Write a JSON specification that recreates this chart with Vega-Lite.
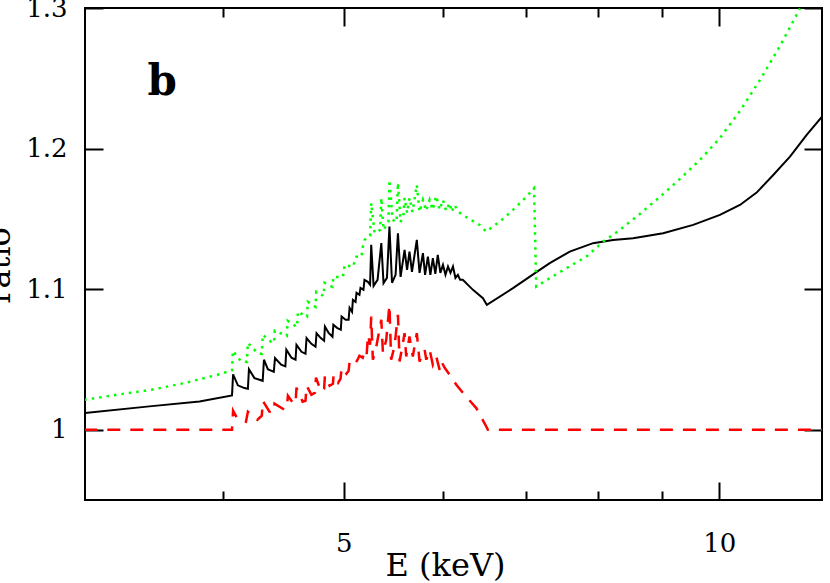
{
  "$schema": "https://vega.github.io/schema/vega-lite/v6.json",
  "width": 737,
  "height": 492,
  "autosize": "none",
  "padding": {"left": 85, "top": 8, "right": 8, "bottom": 83},
  "background": "white",
  "config": {
    "view": {"stroke": "black", "strokeWidth": 2},
    "font": "DejaVu Serif",
    "axis": {
      "domain": false,
      "grid": false,
      "labelFont": "DejaVu Serif",
      "labelFontSize": 26,
      "labelColor": "black",
      "labelOverlap": false,
      "labelFlush": false,
      "titleFont": "DejaVu Serif",
      "titleFontSize": 32,
      "titleFontWeight": "normal",
      "titleColor": "black",
      "tickColor": "black",
      "tickWidth": 2
    }
  },
  "datasets": {
    "black": [
      {"E":3.096,"ratio":1.0119},{"E":3.491,"ratio":1.0166},{"E":3.830,"ratio":1.0201},{"E":4.067,"ratio":1.0244},{"E":4.075,"ratio":1.0394},{"E":4.111,"ratio":1.0316},{"E":4.161,"ratio":1.0296},{"E":4.188,"ratio":1.0291},{"E":4.196,"ratio":1.0430},{"E":4.239,"ratio":1.0367},{"E":4.304,"ratio":1.0348},{"E":4.314,"ratio":1.0498},{"E":4.345,"ratio":1.0431},{"E":4.393,"ratio":1.0412},{"E":4.403,"ratio":1.0510},{"E":4.453,"ratio":1.0462},{"E":4.488,"ratio":1.0451},{"E":4.496,"ratio":1.0569},{"E":4.539,"ratio":1.0512},{"E":4.573,"ratio":1.0498},{"E":4.581,"ratio":1.0604},{"E":4.624,"ratio":1.0554},{"E":4.658,"ratio":1.0540},{"E":4.667,"ratio":1.0652},{"E":4.709,"ratio":1.0611},{"E":4.745,"ratio":1.0590},{"E":4.754,"ratio":1.0687},{"E":4.789,"ratio":1.0654},{"E":4.821,"ratio":1.0633},{"E":4.828,"ratio":1.0734},{"E":4.861,"ratio":1.0689},{"E":4.896,"ratio":1.0661},{"E":4.904,"ratio":1.0746},{"E":4.937,"ratio":1.0725},{"E":4.972,"ratio":1.0711},{"E":4.979,"ratio":1.0805},{"E":5.016,"ratio":1.0782},{"E":5.044,"ratio":1.0782},{"E":5.053,"ratio":1.0867},{"E":5.076,"ratio":1.0839},{"E":5.084,"ratio":1.0924},{"E":5.109,"ratio":1.0910},{"E":5.118,"ratio":1.0974},{"E":5.146,"ratio":1.0960},{"E":5.156,"ratio":1.1009},{"E":5.184,"ratio":1.0995},{"E":5.194,"ratio":1.1066},{"E":5.226,"ratio":1.1052},{"E":5.248,"ratio":1.1031},{"E":5.259,"ratio":1.1315},{"E":5.282,"ratio":1.1023},{"E":5.321,"ratio":1.1066},{"E":5.358,"ratio":1.1327},{"E":5.380,"ratio":1.1043},{"E":5.414,"ratio":1.1080},{"E":5.439,"ratio":1.1445},{"E":5.465,"ratio":1.1045},{"E":5.501,"ratio":1.1102},{"E":5.525,"ratio":1.1398},{"E":5.552,"ratio":1.1087},{"E":5.593,"ratio":1.1279},{"E":5.619,"ratio":1.1137},{"E":5.644,"ratio":1.1267},{"E":5.670,"ratio":1.1123},{"E":5.721,"ratio":1.1350},{"E":5.750,"ratio":1.1116},{"E":5.786,"ratio":1.1256},{"E":5.809,"ratio":1.1102},{"E":5.839,"ratio":1.1232},{"E":5.866,"ratio":1.1102},{"E":5.893,"ratio":1.1220},{"E":5.920,"ratio":1.1109},{"E":5.947,"ratio":1.1244},{"E":5.975,"ratio":1.1116},{"E":6.004,"ratio":1.1173},{"E":6.032,"ratio":1.1102},{"E":6.060,"ratio":1.1161},{"E":6.088,"ratio":1.1116},{"E":6.116,"ratio":1.1161},{"E":6.144,"ratio":1.1080},{"E":6.172,"ratio":1.1102},{"E":6.197,"ratio":1.1066},{"E":6.228,"ratio":1.1066},{"E":6.346,"ratio":1.0995},{"E":6.464,"ratio":1.0936},{"E":6.511,"ratio":1.0888},{"E":6.833,"ratio":1.1007},{"E":7.135,"ratio":1.1121},{"E":7.313,"ratio":1.1185},{"E":7.588,"ratio":1.1267},{"E":7.922,"ratio":1.1327},{"E":8.220,"ratio":1.1350},{"E":8.530,"ratio":1.1362},{"E":9.016,"ratio":1.1398},{"E":9.531,"ratio":1.1457},{"E":10.013,"ratio":1.1528},{"E":10.390,"ratio":1.1599},{"E":10.715,"ratio":1.1687},{"E":11.049,"ratio":1.1812},{"E":11.396,"ratio":1.1942},{"E":11.753,"ratio":1.2097},{"E":12.09,"ratio":1.2227}
    ],
    "green": [
      {"E":3.096,"ratio":1.0213},{"E":3.291,"ratio":1.0249},{"E":3.504,"ratio":1.0284},{"E":3.725,"ratio":1.0332},{"E":3.959,"ratio":1.0391},{"E":4.067,"ratio":1.0423},{"E":4.073,"ratio":1.0561},{"E":4.136,"ratio":1.0485},{"E":4.181,"ratio":1.0483},{"E":4.187,"ratio":1.0618},{"E":4.264,"ratio":1.0545},{"E":4.297,"ratio":1.0540},{"E":4.304,"ratio":1.0675},{"E":4.372,"ratio":1.0625},{"E":4.395,"ratio":1.0618},{"E":4.401,"ratio":1.0704},{"E":4.480,"ratio":1.0675},{"E":4.500,"ratio":1.0668},{"E":4.507,"ratio":1.0775},{"E":4.579,"ratio":1.0734},{"E":4.586,"ratio":1.0732},{"E":4.593,"ratio":1.0841},{"E":4.664,"ratio":1.0805},{"E":4.671,"ratio":1.0803},{"E":4.678,"ratio":1.0910},{"E":4.745,"ratio":1.0874},{"E":4.751,"ratio":1.0981},{"E":4.816,"ratio":1.0952},{"E":4.825,"ratio":1.1045},{"E":4.896,"ratio":1.1016},{"E":4.904,"ratio":1.1087},{"E":4.991,"ratio":1.1087},{"E":5.007,"ratio":1.1173},{"E":5.084,"ratio":1.1158},{"E":5.116,"ratio":1.1230},{"E":5.165,"ratio":1.1230},{"E":5.178,"ratio":1.1301},{"E":5.194,"ratio":1.1350},{"E":5.248,"ratio":1.1379},{"E":5.259,"ratio":1.1613},{"E":5.292,"ratio":1.1400},{"E":5.346,"ratio":1.1421},{"E":5.358,"ratio":1.1649},{"E":5.380,"ratio":1.1421},{"E":5.429,"ratio":1.1478},{"E":5.439,"ratio":1.1777},{"E":5.470,"ratio":1.1493},{"E":5.511,"ratio":1.1478},{"E":5.525,"ratio":1.1756},{"E":5.552,"ratio":1.1478},{"E":5.583,"ratio":1.1535},{"E":5.593,"ratio":1.1649},{"E":5.619,"ratio":1.1542},{"E":5.644,"ratio":1.1649},{"E":5.675,"ratio":1.1549},{"E":5.721,"ratio":1.1741},{"E":5.750,"ratio":1.1549},{"E":5.786,"ratio":1.1635},{"E":5.820,"ratio":1.1557},{"E":5.858,"ratio":1.1635},{"E":5.890,"ratio":1.1564},{"E":5.930,"ratio":1.1663},{"E":5.967,"ratio":1.1564},{"E":6.004,"ratio":1.1635},{"E":6.039,"ratio":1.1557},{"E":6.079,"ratio":1.1613},{"E":6.101,"ratio":1.1549},{"E":6.135,"ratio":1.1599},{"E":6.172,"ratio":1.1552},{"E":6.287,"ratio":1.1505},{"E":6.425,"ratio":1.1457},{"E":6.504,"ratio":1.1409},{"E":6.667,"ratio":1.1480},{"E":6.833,"ratio":1.1564},{"E":7.005,"ratio":1.1658},{"E":7.104,"ratio":1.1718},{"E":7.132,"ratio":1.1018},{"E":7.313,"ratio":1.1078},{"E":7.542,"ratio":1.1149},{"E":7.826,"ratio":1.1232},{"E":8.070,"ratio":1.1338},{"E":8.323,"ratio":1.1421},{"E":8.636,"ratio":1.1535},{"E":8.962,"ratio":1.1656},{"E":9.299,"ratio":1.1784},{"E":9.649,"ratio":1.1919},{"E":10.013,"ratio":1.2075},{"E":10.390,"ratio":1.2267},{"E":10.781,"ratio":1.2488},{"E":11.187,"ratio":1.2729},{"E":11.608,"ratio":1.2997}
    ],
    "red": [
      {"E":3.096,"ratio":1.0},{"E":4.067,"ratio":1.0},{"E":4.075,"ratio":1.0135},{"E":4.111,"ratio":1.0071},{"E":4.173,"ratio":1.0057},{"E":4.188,"ratio":1.0128},{"E":4.262,"ratio":1.0071},{"E":4.297,"ratio":1.0100},{"E":4.305,"ratio":1.0206},{"E":4.358,"ratio":1.0128},{"E":4.391,"ratio":1.0121},{"E":4.399,"ratio":1.0185},{"E":4.480,"ratio":1.0142},{"E":4.500,"ratio":1.0156},{"E":4.509,"ratio":1.0242},{"E":4.556,"ratio":1.0185},{"E":4.573,"ratio":1.0185},{"E":4.581,"ratio":1.0299},{"E":4.633,"ratio":1.0199},{"E":4.658,"ratio":1.0206},{"E":4.667,"ratio":1.0313},{"E":4.709,"ratio":1.0249},{"E":4.740,"ratio":1.0263},{"E":4.749,"ratio":1.0370},{"E":4.794,"ratio":1.0270},{"E":4.821,"ratio":1.0291},{"E":4.828,"ratio":1.0384},{"E":4.870,"ratio":1.0313},{"E":4.900,"ratio":1.0327},{"E":4.906,"ratio":1.0391},{"E":4.947,"ratio":1.0334},{"E":4.969,"ratio":1.0362},{"E":4.979,"ratio":1.0441},{"E":5.024,"ratio":1.0398},{"E":5.044,"ratio":1.0419},{"E":5.053,"ratio":1.0483},{"E":5.100,"ratio":1.0462},{"E":5.128,"ratio":1.0498},{"E":5.146,"ratio":1.0526},{"E":5.177,"ratio":1.0512},{"E":5.194,"ratio":1.0554},{"E":5.214,"ratio":1.0526},{"E":5.228,"ratio":1.0675},{"E":5.248,"ratio":1.0604},{"E":5.259,"ratio":1.0805},{"E":5.275,"ratio":1.0498},{"E":5.309,"ratio":1.0592},{"E":5.358,"ratio":1.0782},{"E":5.374,"ratio":1.0545},{"E":5.407,"ratio":1.0640},{"E":5.439,"ratio":1.0888},{"E":5.456,"ratio":1.0498},{"E":5.490,"ratio":1.0592},{"E":5.525,"ratio":1.0817},{"E":5.542,"ratio":1.0485},{"E":5.576,"ratio":1.0616},{"E":5.593,"ratio":1.0687},{"E":5.610,"ratio":1.0521},{"E":5.644,"ratio":1.0663},{"E":5.679,"ratio":1.0521},{"E":5.721,"ratio":1.0687},{"E":5.750,"ratio":1.0485},{"E":5.804,"ratio":1.0569},{"E":5.822,"ratio":1.0498},{"E":5.858,"ratio":1.0569},{"E":5.893,"ratio":1.0462},{"E":5.930,"ratio":1.0521},{"E":5.967,"ratio":1.0426},{"E":5.986,"ratio":1.0485},{"E":6.023,"ratio":1.0441},{"E":6.079,"ratio":1.0391},{"E":6.154,"ratio":1.0320},{"E":6.248,"ratio":1.0249},{"E":6.385,"ratio":1.0154},{"E":6.504,"ratio":1.0023},{"E":6.523,"ratio":1.0},{"E":12.09,"ratio":1.0}
    ],
    "panel": [
      {"E":3.479,"ratio":1.2381,"text":"b"}
    ]
  },
  "layer": [
    {
      "data": {"name": "black"},
      "mark": {"type": "line", "color": "black", "strokeWidth": 2, "clip": true},
      "encoding": {
        "x": {
          "field": "E", "type": "quantitative",
          "scale": {"type": "log", "domain": [3.1, 12.09], "nice": false},
          "axis": {
            "orient": "bottom",
            "values": [4, 5, 6, 7, 8, 9, 10],
            "format": "~g",
            "labelExpr": "datum.value == 5 || datum.value == 10 ? datum.label : ''",
            "tickSize": {"condition": {"test": "datum.value == 5 || datum.value == 10", "value": -18}, "value": -9},
            "labelPadding": 48,
            "title": "E (keV)",
            "titleX": 360,
            "titleY": 50,
            "titleBaseline": "top",
            "titleAlign": "center"
          }
        },
        "y": {
          "field": "ratio", "type": "quantitative",
          "scale": {"domain": [0.95, 1.3], "nice": false, "zero": false},
          "axis": {
            "orient": "left",
            "values": [1, 1.1, 1.2, 1.3],
            "format": "~g",
            "tickSize": -18,
            "labelPadding": 36,
            "title": "ratio",
            "titleX": -76,
            "titleY": 257,
            "titleAngle": -90,
            "titleBaseline": "alphabetic",
            "titleAlign": "center"
          }
        }
      }
    },
    {
      "data": {"name": "green"},
      "mark": {"type": "line", "color": "#00ff00", "strokeWidth": 2.5, "strokeDash": [2.5, 5], "clip": true},
      "encoding": {
        "x": {
          "field": "E", "type": "quantitative",
          "axis": {
            "orient": "top",
            "values": [4, 5, 6, 7, 8, 9, 10],
            "labels": false,
            "tickSize": {"condition": {"test": "datum.value == 5 || datum.value == 10", "value": -18}, "value": -9},
            "title": null
          }
        },
        "y": {
          "field": "ratio", "type": "quantitative",
          "axis": {
            "orient": "right",
            "values": [1, 1.1, 1.2, 1.3],
            "labels": false,
            "tickSize": -18,
            "title": null
          }
        }
      }
    },
    {
      "data": {"name": "red"},
      "mark": {"type": "line", "color": "#ff0000", "strokeWidth": 2.5, "strokeDash": [13, 10], "clip": true},
      "encoding": {
        "x": {"field": "E", "type": "quantitative", "axis": null},
        "y": {"field": "ratio", "type": "quantitative", "axis": null}
      }
    },
    {
      "data": {"name": "panel"},
      "mark": {"type": "text", "font": "DejaVu Serif", "fontSize": 42, "fontWeight": "bold", "align": "left", "baseline": "alphabetic", "color": "black"},
      "encoding": {
        "x": {"field": "E", "type": "quantitative", "axis": null},
        "y": {"field": "ratio", "type": "quantitative", "axis": null},
        "text": {"field": "text"}
      }
    }
  ],
  "resolve": {"axis": {"x": "independent", "y": "independent"}}
}
